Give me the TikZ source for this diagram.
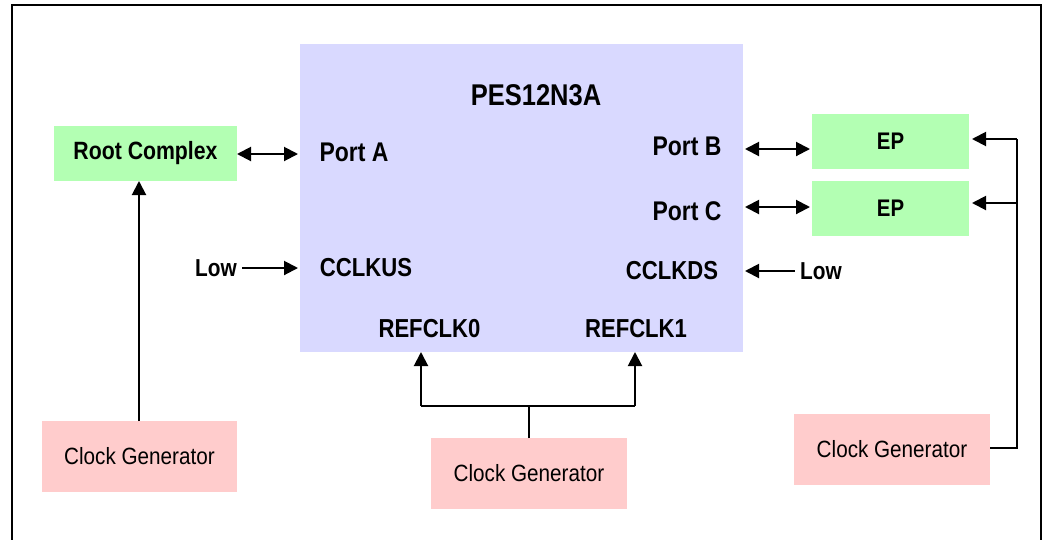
\documentclass[tikz,border=0pt]{standalone}
\usepackage{fontspec}
\setmainfont{Liberation Sans}
\newfontfamily\lblfont[FakeStretch=0.85]{Liberation Sans}
\newfontfamily\cgfont[FakeStretch=0.88]{Liberation Sans}
\usetikzlibrary{arrows.meta}
\definecolor{chipc}{RGB}{217,217,255}
\definecolor{greenc}{RGB}{179,255,179}
\definecolor{pinkc}{RGB}{255,204,204}
\tikzset{
  box/.style={inner sep=0pt, outer sep=0pt},
  greenbox/.style={box, fill=greenc, font=\lblfont\bfseries\fontsize{25}{28}\selectfont},
  pinkbox/.style={box, fill=pinkc, minimum width=196pt, minimum height=71pt, font=\cgfont\fontsize{23.5}{26}\selectfont},
  lbl/.style={inner sep=0pt, font=\lblfont\bfseries\fontsize{26}{30}\selectfont},
  wire/.style={line width=2pt},
  arr/.style={wire, -{Triangle[length=14pt,width=14pt]}},
  darr/.style={wire, {Triangle[length=14pt,width=14pt]}-{Triangle[length=14pt,width=14pt]}},
}
\begin{document}
\begin{tikzpicture}[x=1pt,y=-1pt]
\useasboundingbox (0,0) rectangle (1043,539);
\clip (0,0) rectangle (1043,539);
\draw[line width=2pt] (12,5) rectangle (1041,580);
% main chip
\node[box, fill=chipc, minimum width=443pt, minimum height=308pt] (chip) at (521.5,198) {};
\node[lbl, font=\lblfont\bfseries\fontsize{30}{34}\selectfont] (title) at (536,95) {PES12N3A};
\node[lbl, font=\lblfont\bfseries\fontsize{27}{30}\selectfont] (pa) at (354,152) {Port A};
\node[lbl, font=\lblfont\bfseries\fontsize{27}{30}\selectfont] (pb) at (687,146) {Port B};
\node[lbl, font=\lblfont\bfseries\fontsize{27}{30}\selectfont] (pc) at (687,211) {Port C};
\node[lbl] (cus) at (366,268) {CCLKUS};
\node[lbl] (cds) at (672,271) {CCLKDS};
\node[lbl] (r0) at (429.5,329) {REFCLK0};
\node[lbl] (r1) at (636,329) {REFCLK1};
\node[lbl, font=\lblfont\bfseries\fontsize{24.5}{28}\selectfont] (lowl) at (216,268) {Low};
\node[lbl, font=\lblfont\bfseries\fontsize{24.5}{28}\selectfont] (lowr) at (821,271) {Low};
% boxes
\node[greenbox, minimum width=183pt, minimum height=55pt] (root) at (145.5,153.5) {Root Complex};
\node[greenbox, font=\lblfont\bfseries\fontsize{24}{28}\selectfont, minimum width=157pt, minimum height=55pt] (ep1) at (890.5,141.5) {EP};
\node[greenbox, font=\lblfont\bfseries\fontsize{24}{28}\selectfont, minimum width=157pt, minimum height=55pt] (ep2) at (890.5,208.5) {EP};
\node[pinkbox, minimum width=195pt] (cg1) at (139.5,456.5) {Clock Generator};
\node[pinkbox] (cg2) at (529,473.5) {Clock Generator};
\node[pinkbox] (cg3) at (892,449.5) {Clock Generator};
% port connectors
\coordinate (ya) at (0,154);
\draw[darr] (root.east |- ya) -- ([xshift=-2pt]chip.west |- ya);
\coordinate (yb) at (745,149);
\draw[darr] (yb) -- ([xshift=-2pt]ep1.west |- yb);
\coordinate (yc) at (745,207);
\draw[darr] (yc) -- ([xshift=-2pt]ep2.west |- yc);
% Low inputs
\draw[arr] ([xshift=5pt]lowl.east) -- ([xshift=-2pt]chip.west |- lowl);
\draw[arr] ([xshift=-5pt]lowr.west) -- ([xshift=2pt]chip.east |- lowr);
% left clock
\coordinate (c1) at (139,0);
\draw[arr] (c1 |- cg1.north) -- (c1 |- root.south);
% middle clock
\coordinate (j0) at (421,406);
\coordinate (j1) at (635,406);
\draw[wire] (cg2.north) -- (cg2.north |- j0);
\draw[wire] (j0) -- (j1);
\draw[arr] (j0) -- (j0 |- chip.south);
\draw[arr] (j1) -- (j1 |- chip.south);
% right clock
\coordinate (k0) at (1017,139);
\coordinate (k1) at (1017,203);
\coordinate (k2) at (1017,448);
\draw[wire] (cg3.east |- k2) -- (k2) -- (k0);
\draw[arr] (k0) -- ([xshift=3pt]ep1.east |- k0);
\draw[arr] (k1) -- ([xshift=3pt]ep2.east |- k1);
\end{tikzpicture}
\end{document}
